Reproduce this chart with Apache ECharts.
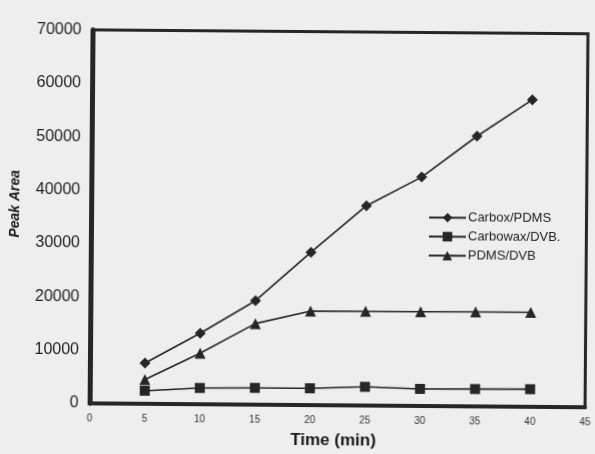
<!DOCTYPE html>
<html>
<head>
<meta charset="utf-8">
<script src="https://cdn.jsdelivr.net/npm/echarts@6/dist/echarts.min.js"></script>
<style>
  html, body { margin: 0; padding: 0; background: #eeeeee; overflow: hidden; }
  /* 扫描件略有倾斜 */
  #main { width: 595px; height: 454px; transform: rotate(0.45deg); }
</style>
</head>
<body>
<div id="main"></div>
<script>
// 数据 (Time, min)
var times = [5, 10, 15, 20, 25, 30, 35, 40];
var carboxPdms = [7650, 13300, 19500, 28650, 37450, 42900, 50650, 57550];
var carbowaxDvb = [2450, 3050, 3150, 3150, 3500, 3200, 3250, 3300];
var pdmsDvb = [4550, 9550, 15200, 17600, 17650, 17650, 17700, 17700];
var yTicks = [0, 10000, 20000, 30000, 40000, 50000, 60000, 70000];
var xTicks = [0, 5, 10, 15, 20, 25, 30, 35, 40, 45];

var ink = "#262626";

function pairs(vals) {
  var arr = [];
  for (var i = 0; i < times.length; i++) {
    arr.push([times[i], vals[i]]);
  }
  return arr;
}

function makeSeries(name, vals, symbol, size) {
  return {
    name: name,
    type: "line",
    data: pairs(vals),
    symbol: symbol,
    symbolSize: size,
    showSymbol: true,
    lineStyle: { color: ink, width: 1.6 },
    itemStyle: { color: ink, borderWidth: 0 },
    emphasis: { disabled: true },
    animation: false
  };
}

var chart = echarts.init(document.getElementById("main"));
var option = {
  backgroundColor: "#eeeeee",
  animation: false,
  grid: {
    left: 91,
    right: 6,
    top: 31.5,
    bottom: 38.5,
    show: true,
    borderColor: ink,
    borderWidth: 3,
    backgroundColor: "transparent"
  },
  legend: {
    orient: "vertical",
    left: 423,
    top: 205,
    itemWidth: 37,
    itemHeight: 12,
    itemGap: 6,
    textStyle: { fontFamily: "Liberation Sans", fontSize: 13, color: "#222", padding: [0, 0, 0, -3] },
    data: ["Carbox/PDMS", "Carbowax/DVB.", "PDMS/DVB"]
  },
  xAxis: {
    type: "value",
    min: 0,
    max: 45,
    interval: 5,
    name: "Time (min)",
    nameLocation: "middle",
    nameGap: 27,
    nameTextStyle: { fontFamily: "Liberation Sans", fontWeight: "bold", fontSize: 17, color: "#1a1a1a", padding: [0, 8, 0, 0] },
    axisLine: { show: true, lineStyle: { color: ink, width: 4 } },
    axisTick: { show: false },
    splitLine: { show: false },
    axisLabel: {
      fontFamily: "Liberation Sans",
      fontSize: 10,
      color: "#333",
      margin: 10,
      formatter: function (v) { return xTicks.indexOf(v) >= 0 ? String(v) : ""; }
    }
  },
  yAxis: {
    type: "value",
    min: 0,
    max: 70000,
    interval: 10000,
    axisLine: { show: true, lineStyle: { color: ink, width: 5 } },
    axisTick: { show: false },
    splitLine: { show: false },
    axisLabel: {
      fontFamily: "Liberation Sans",
      fontSize: 16,
      color: "#222",
      margin: 11,
      formatter: function (v) { return yTicks.indexOf(v) >= 0 ? String(v) : ""; }
    }
  },
  graphic: [{
    type: "text",
    x: 15,
    y: 206,
    rotation: Math.PI / 2,
    style: {
      text: "Peak Area",
      fontFamily: "Liberation Sans",
      fontWeight: "bold",
      fontStyle: "italic",
      fontSize: 14,
      fill: "#1a1a1a",
      align: "center",
      verticalAlign: "middle"
    }
  }],
  series: [
    makeSeries("Carbox/PDMS", carboxPdms, "diamond", 11),
    makeSeries("Carbowax/DVB.", carbowaxDvb, "rect", 10),
    makeSeries("PDMS/DVB", pdmsDvb, "triangle", 11)
  ]
};
chart.setOption(option);
</script>
</body>
</html>
